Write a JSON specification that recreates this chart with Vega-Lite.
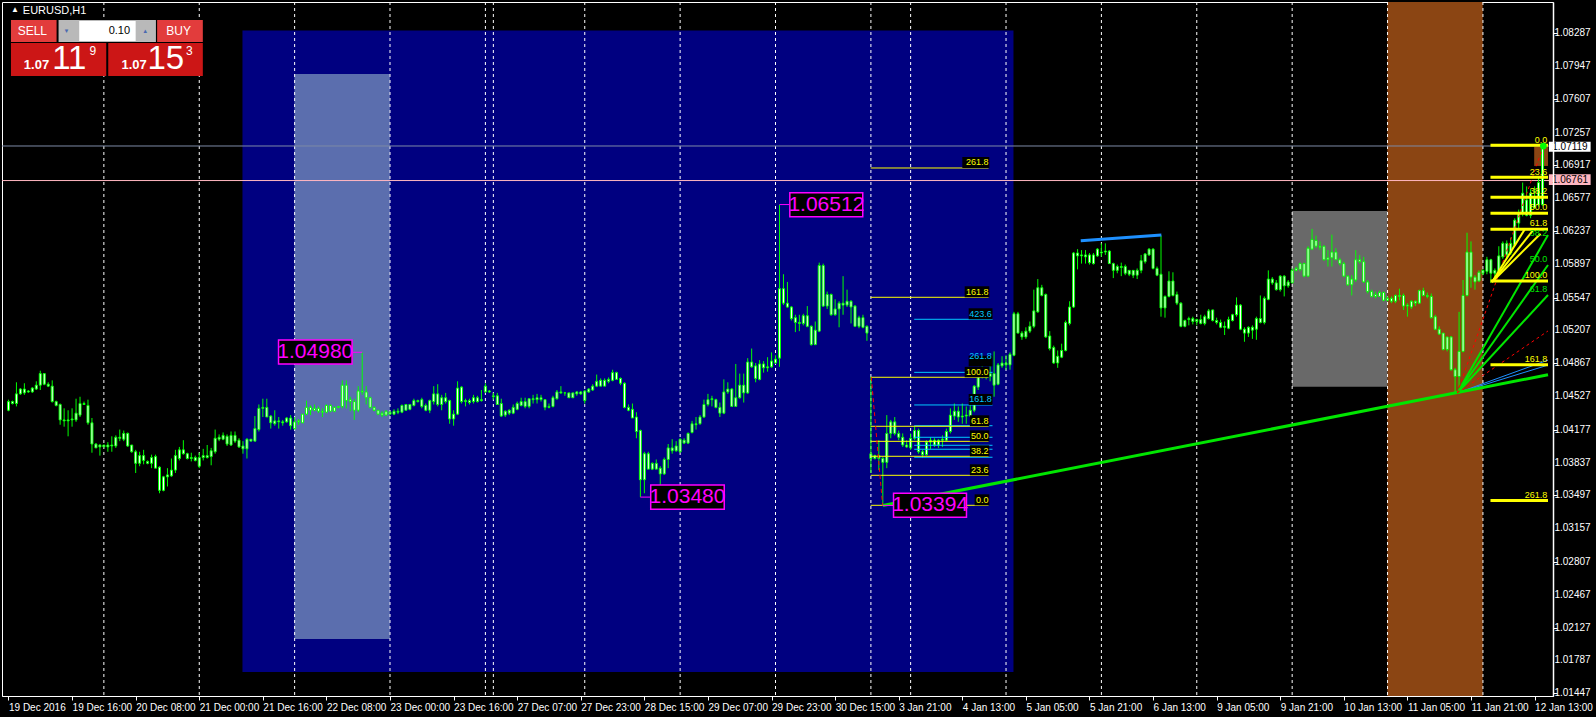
{
"$schema":"https://vega.github.io/schema/vega-lite/v6.json",
"width":1551,"height":694,
"autosize":{"type":"none"},
"padding":{"left":2,"top":2,"right":43,"bottom":21},
"background":"#000000",
"config":{"view":{"stroke":"#ffffff","strokeWidth":1,"fill":"#000000"},"text":{"font":"Liberation Sans"},
 "axis":{"grid":false,"labelColor":"#ffffff","tickColor":"#ffffff","domainColor":"#ffffff","labelFont":"Liberation Sans","labelFontSize":10,"titleFontSize":0,"labelOverlap":false,"labelSeparation":0,"labelBound":false}},
"datasets":{
"candles":[
{"i":0,"o":1.0438,"h":1.0449,"l":1.0437,"c":1.0447},{"i":1,"o":1.0447,"h":1.0448,"l":1.0444,"c":1.0445},{"i":2,"o":1.0445,"h":1.0467,"l":1.0442,"c":1.0455},{"i":3,"o":1.0455,"h":1.0461,"l":1.0454,"c":1.0460},{"i":4,"o":1.0460,"h":1.0466,"l":1.0454,"c":1.0456},{"i":5,"o":1.0457,"h":1.0459,"l":1.0456,"c":1.0458},{"i":6,"o":1.0457,"h":1.0462,"l":1.0456,"c":1.0461},{"i":7,"o":1.0460,"h":1.0468,"l":1.0459,"c":1.0464},{"i":8,"o":1.0464,"h":1.0479,"l":1.0459,"c":1.0476},{"i":9,"o":1.0476,"h":1.0476,"l":1.0464,"c":1.0465},
{"i":10,"o":1.0465,"h":1.0467,"l":1.0462,"c":1.0463},{"i":11,"o":1.0463,"h":1.0469,"l":1.0446,"c":1.0447},{"i":12,"o":1.0447,"h":1.0448,"l":1.0442,"c":1.0443},{"i":13,"o":1.0444,"h":1.0445,"l":1.0423,"c":1.0428},{"i":14,"o":1.0428,"h":1.0440,"l":1.0421,"c":1.0427},{"i":15,"o":1.0427,"h":1.0438,"l":1.0411,"c":1.0428},{"i":16,"o":1.0428,"h":1.0440,"l":1.0421,"c":1.0429},{"i":17,"o":1.0428,"h":1.0450,"l":1.0426,"c":1.0435},{"i":18,"o":1.0433,"h":1.0452,"l":1.0431,"c":1.0445},{"i":19,"o":1.0445,"h":1.0447,"l":1.0444,"c":1.0444},
{"i":20,"o":1.0443,"h":1.0449,"l":1.0423,"c":1.0425},{"i":21,"o":1.0425,"h":1.0430,"l":1.0394,"c":1.0403},{"i":22,"o":1.0403,"h":1.0404,"l":1.0399,"c":1.0399},{"i":23,"o":1.0400,"h":1.0403,"l":1.0391,"c":1.0402},{"i":24,"o":1.0402,"h":1.0402,"l":1.0400,"c":1.0400},{"i":25,"o":1.0400,"h":1.0405,"l":1.0395,"c":1.0402},{"i":26,"o":1.0402,"h":1.0411,"l":1.0395,"c":1.0401},{"i":27,"o":1.0401,"h":1.0412,"l":1.0399,"c":1.0410},{"i":28,"o":1.0410,"h":1.0418,"l":1.0406,"c":1.0409},{"i":29,"o":1.0408,"h":1.0417,"l":1.0406,"c":1.0414},
{"i":30,"o":1.0414,"h":1.0415,"l":1.0400,"c":1.0401},{"i":31,"o":1.0402,"h":1.0402,"l":1.0394,"c":1.0395},{"i":32,"o":1.0395,"h":1.0397,"l":1.0373,"c":1.0383},{"i":33,"o":1.0383,"h":1.0395,"l":1.0380,"c":1.0391},{"i":34,"o":1.0391,"h":1.0397,"l":1.0382,"c":1.0386},{"i":35,"o":1.0385,"h":1.0386,"l":1.0382,"c":1.0383},{"i":36,"o":1.0383,"h":1.0392,"l":1.0378,"c":1.0389},{"i":37,"o":1.0390,"h":1.0392,"l":1.0378,"c":1.0378},{"i":38,"o":1.0379,"h":1.0380,"l":1.0352,"c":1.0355},{"i":39,"o":1.0355,"h":1.0370,"l":1.0354,"c":1.0369},
{"i":40,"o":1.0369,"h":1.0378,"l":1.0359,"c":1.0371},{"i":41,"o":1.0370,"h":1.0388,"l":1.0369,"c":1.0376},{"i":42,"o":1.0376,"h":1.0397,"l":1.0373,"c":1.0391},{"i":43,"o":1.0388,"h":1.0400,"l":1.0386,"c":1.0397},{"i":44,"o":1.0397,"h":1.0407,"l":1.0392,"c":1.0393},{"i":45,"o":1.0393,"h":1.0394,"l":1.0387,"c":1.0388},{"i":46,"o":1.0388,"h":1.0394,"l":1.0385,"c":1.0389},{"i":47,"o":1.0389,"h":1.0391,"l":1.0385,"c":1.0386},{"i":48,"o":1.0389,"h":1.0394,"l":1.0378,"c":1.0380},{"i":49,"o":1.0389,"h":1.0398,"l":1.0386,"c":1.0391},
{"i":50,"o":1.0389,"h":1.0402,"l":1.0388,"c":1.0391},{"i":51,"o":1.0390,"h":1.0399,"l":1.0381,"c":1.0396},{"i":52,"o":1.0395,"h":1.0418,"l":1.0393,"c":1.0409},{"i":53,"o":1.0408,"h":1.0413,"l":1.0406,"c":1.0410},{"i":54,"o":1.0408,"h":1.0415,"l":1.0407,"c":1.0412},{"i":55,"o":1.0411,"h":1.0413,"l":1.0401,"c":1.0403},{"i":56,"o":1.0402,"h":1.0416,"l":1.0401,"c":1.0412},{"i":57,"o":1.0412,"h":1.0416,"l":1.0404,"c":1.0406},{"i":58,"o":1.0407,"h":1.0409,"l":1.0399,"c":1.0400},{"i":59,"o":1.0401,"h":1.0406,"l":1.0393,"c":1.0398},
{"i":60,"o":1.0398,"h":1.0409,"l":1.0388,"c":1.0408},{"i":61,"o":1.0408,"h":1.0408,"l":1.0406,"c":1.0406},{"i":62,"o":1.0406,"h":1.0432,"l":1.0406,"c":1.0419},{"i":63,"o":1.0418,"h":1.0444,"l":1.0416,"c":1.0440},{"i":64,"o":1.0440,"h":1.0450,"l":1.0431,"c":1.0441},{"i":65,"o":1.0441,"h":1.0450,"l":1.0431,"c":1.0431},{"i":66,"o":1.0432,"h":1.0433,"l":1.0419,"c":1.0425},{"i":67,"o":1.0424,"h":1.0438,"l":1.0422,"c":1.0427},{"i":68,"o":1.0427,"h":1.0431,"l":1.0419,"c":1.0426},{"i":69,"o":1.0426,"h":1.0428,"l":1.0422,"c":1.0425},
{"i":70,"o":1.0426,"h":1.0431,"l":1.0425,"c":1.0430},{"i":71,"o":1.0430,"h":1.0433,"l":1.0418,"c":1.0422},{"i":72,"o":1.0426,"h":1.0431,"l":1.0418,"c":1.0419},{"i":73,"o":1.0426,"h":1.0429,"l":1.0423,"c":1.0427},{"i":74,"o":1.0425,"h":1.0434,"l":1.0425,"c":1.0434},{"i":75,"o":1.0434,"h":1.0448,"l":1.0433,"c":1.0441},{"i":76,"o":1.0441,"h":1.0443,"l":1.0433,"c":1.0438},{"i":77,"o":1.0438,"h":1.0444,"l":1.0437,"c":1.0440},{"i":78,"o":1.0440,"h":1.0442,"l":1.0435,"c":1.0437},{"i":79,"o":1.0437,"h":1.0440,"l":1.0431,"c":1.0436},
{"i":80,"o":1.0436,"h":1.0444,"l":1.0435,"c":1.0443},{"i":81,"o":1.0443,"h":1.0444,"l":1.0436,"c":1.0437},{"i":82,"o":1.0437,"h":1.0442,"l":1.0436,"c":1.0441},{"i":83,"o":1.0441,"h":1.0442,"l":1.0440,"c":1.0442},{"i":84,"o":1.0442,"h":1.0469,"l":1.0440,"c":1.0464},{"i":85,"o":1.0464,"h":1.0469,"l":1.0440,"c":1.0448},{"i":86,"o":1.0449,"h":1.0452,"l":1.0437,"c":1.0447},{"i":87,"o":1.0447,"h":1.0450,"l":1.0428,"c":1.0438},{"i":88,"o":1.0438,"h":1.0463,"l":1.0436,"c":1.0458},{"i":89,"o":1.0458,"h":1.0498,"l":1.0454,"c":1.0457},
{"i":90,"o":1.0457,"h":1.0463,"l":1.0444,"c":1.0451},{"i":91,"o":1.0451,"h":1.0452,"l":1.0440,"c":1.0441},{"i":92,"o":1.0441,"h":1.0442,"l":1.0437,"c":1.0438},{"i":93,"o":1.0438,"h":1.0438,"l":1.0433,"c":1.0434},{"i":94,"o":1.0435,"h":1.0437,"l":1.0431,"c":1.0433},{"i":95,"o":1.0433,"h":1.0438,"l":1.0432,"c":1.0437},{"i":96,"o":1.0436,"h":1.0437,"l":1.0433,"c":1.0434},{"i":97,"o":1.0434,"h":1.0439,"l":1.0433,"c":1.0437},{"i":98,"o":1.0436,"h":1.0440,"l":1.0434,"c":1.0437},{"i":99,"o":1.0436,"h":1.0444,"l":1.0435,"c":1.0443},
{"i":100,"o":1.0438,"h":1.0444,"l":1.0438,"c":1.0444},{"i":101,"o":1.0444,"h":1.0444,"l":1.0438,"c":1.0439},{"i":102,"o":1.0443,"h":1.0450,"l":1.0442,"c":1.0448},{"i":103,"o":1.0448,"h":1.0449,"l":1.0446,"c":1.0447},{"i":104,"o":1.0449,"h":1.0451,"l":1.0440,"c":1.0442},{"i":105,"o":1.0443,"h":1.0445,"l":1.0437,"c":1.0438},{"i":106,"o":1.0438,"h":1.0449,"l":1.0435,"c":1.0448},{"i":107,"o":1.0447,"h":1.0463,"l":1.0444,"c":1.0455},{"i":108,"o":1.0455,"h":1.0465,"l":1.0442,"c":1.0444},{"i":109,"o":1.0444,"h":1.0454,"l":1.0438,"c":1.0451},
{"i":110,"o":1.0451,"h":1.0456,"l":1.0445,"c":1.0447},{"i":111,"o":1.0448,"h":1.0449,"l":1.0424,"c":1.0429},{"i":112,"o":1.0429,"h":1.0438,"l":1.0422,"c":1.0434},{"i":113,"o":1.0434,"h":1.0468,"l":1.0433,"c":1.0461},{"i":114,"o":1.0462,"h":1.0463,"l":1.0445,"c":1.0447},{"i":115,"o":1.0447,"h":1.0450,"l":1.0442,"c":1.0448},{"i":116,"o":1.0448,"h":1.0450,"l":1.0444,"c":1.0446},{"i":117,"o":1.0447,"h":1.0454,"l":1.0445,"c":1.0451},{"i":118,"o":1.0447,"h":1.0453,"l":1.0446,"c":1.0451},{"i":119,"o":1.0448,"h":1.0459,"l":1.0447,"c":1.0449},
{"i":120,"o":1.0457,"h":1.0466,"l":1.0456,"c":1.0463},{"i":121,"o":1.0458,"h":1.0459,"l":1.0456,"c":1.0457},{"i":122,"o":1.0453,"h":1.0456,"l":1.0449,"c":1.0452},{"i":123,"o":1.0453,"h":1.0456,"l":1.0444,"c":1.0444},{"i":124,"o":1.0445,"h":1.0450,"l":1.0431,"c":1.0432},{"i":125,"o":1.0433,"h":1.0438,"l":1.0431,"c":1.0437},{"i":126,"o":1.0435,"h":1.0439,"l":1.0433,"c":1.0438},{"i":127,"o":1.0435,"h":1.0444,"l":1.0434,"c":1.0441},{"i":128,"o":1.0439,"h":1.0447,"l":1.0438,"c":1.0445},{"i":129,"o":1.0443,"h":1.0451,"l":1.0442,"c":1.0447},
{"i":130,"o":1.0447,"h":1.0451,"l":1.0440,"c":1.0442},{"i":131,"o":1.0442,"h":1.0450,"l":1.0440,"c":1.0450},{"i":132,"o":1.0449,"h":1.0454,"l":1.0445,"c":1.0450},{"i":133,"o":1.0449,"h":1.0455,"l":1.0445,"c":1.0451},{"i":134,"o":1.0451,"h":1.0454,"l":1.0447,"c":1.0449},{"i":135,"o":1.0449,"h":1.0449,"l":1.0438,"c":1.0441},{"i":136,"o":1.0441,"h":1.0445,"l":1.0440,"c":1.0442},{"i":137,"o":1.0442,"h":1.0453,"l":1.0441,"c":1.0451},{"i":138,"o":1.0450,"h":1.0459,"l":1.0449,"c":1.0457},{"i":139,"o":1.0456,"h":1.0463,"l":1.0455,"c":1.0457},
{"i":140,"o":1.0456,"h":1.0457,"l":1.0453,"c":1.0456},{"i":141,"o":1.0456,"h":1.0456,"l":1.0451,"c":1.0451},{"i":142,"o":1.0451,"h":1.0456,"l":1.0451,"c":1.0456},{"i":143,"o":1.0455,"h":1.0458,"l":1.0453,"c":1.0457},{"i":144,"o":1.0455,"h":1.0458,"l":1.0454,"c":1.0457},{"i":145,"o":1.0448,"h":1.0459,"l":1.0445,"c":1.0458},{"i":146,"o":1.0457,"h":1.0461,"l":1.0456,"c":1.0460},{"i":147,"o":1.0459,"h":1.0465,"l":1.0458,"c":1.0463},{"i":148,"o":1.0463,"h":1.0475,"l":1.0462,"c":1.0468},{"i":149,"o":1.0463,"h":1.0471,"l":1.0463,"c":1.0469},
{"i":150,"o":1.0463,"h":1.0471,"l":1.0463,"c":1.0469},{"i":151,"o":1.0468,"h":1.0472,"l":1.0466,"c":1.0470},{"i":152,"o":1.0469,"h":1.0480,"l":1.0468,"c":1.0477},{"i":153,"o":1.0477,"h":1.0478,"l":1.0470,"c":1.0470},{"i":154,"o":1.0471,"h":1.0472,"l":1.0464,"c":1.0466},{"i":155,"o":1.0466,"h":1.0467,"l":1.0440,"c":1.0441},{"i":156,"o":1.0441,"h":1.0444,"l":1.0437,"c":1.0438},{"i":157,"o":1.0439,"h":1.0445,"l":1.0430,"c":1.0430},{"i":158,"o":1.0431,"h":1.0436,"l":1.0409,"c":1.0416},{"i":159,"o":1.0417,"h":1.0418,"l":1.0348,"c":1.0366},
{"i":160,"o":1.0366,"h":1.0395,"l":1.0352,"c":1.0393},{"i":161,"o":1.0393,"h":1.0395,"l":1.0377,"c":1.0377},{"i":162,"o":1.0377,"h":1.0384,"l":1.0376,"c":1.0383},{"i":163,"o":1.0383,"h":1.0387,"l":1.0377,"c":1.0377},{"i":164,"o":1.0378,"h":1.0380,"l":1.0355,"c":1.0372},{"i":165,"o":1.0372,"h":1.0389,"l":1.0371,"c":1.0387},{"i":166,"o":1.0387,"h":1.0403,"l":1.0378,"c":1.0399},{"i":167,"o":1.0396,"h":1.0408,"l":1.0393,"c":1.0399},{"i":168,"o":1.0396,"h":1.0406,"l":1.0395,"c":1.0401},{"i":169,"o":1.0395,"h":1.0409,"l":1.0394,"c":1.0408},
{"i":170,"o":1.0407,"h":1.0409,"l":1.0403,"c":1.0404},{"i":171,"o":1.0404,"h":1.0415,"l":1.0403,"c":1.0414},{"i":172,"o":1.0415,"h":1.0427,"l":1.0414,"c":1.0424},{"i":173,"o":1.0423,"h":1.0431,"l":1.0418,"c":1.0424},{"i":174,"o":1.0424,"h":1.0433,"l":1.0423,"c":1.0431},{"i":175,"o":1.0431,"h":1.0449,"l":1.0430,"c":1.0444},{"i":176,"o":1.0444,"h":1.0455,"l":1.0442,"c":1.0449},{"i":177,"o":1.0449,"h":1.0453,"l":1.0442,"c":1.0450},{"i":178,"o":1.0449,"h":1.0450,"l":1.0440,"c":1.0441},{"i":179,"o":1.0441,"h":1.0446,"l":1.0431,"c":1.0435},
{"i":180,"o":1.0435,"h":1.0470,"l":1.0434,"c":1.0457},{"i":181,"o":1.0457,"h":1.0467,"l":1.0455,"c":1.0460},{"i":182,"o":1.0460,"h":1.0461,"l":1.0442,"c":1.0442},{"i":183,"o":1.0442,"h":1.0486,"l":1.0442,"c":1.0451},{"i":184,"o":1.0451,"h":1.0476,"l":1.0450,"c":1.0464},{"i":185,"o":1.0464,"h":1.0476,"l":1.0446,"c":1.0456},{"i":186,"o":1.0456,"h":1.0492,"l":1.0455,"c":1.0488},{"i":187,"o":1.0488,"h":1.0502,"l":1.0482,"c":1.0483},{"i":188,"o":1.0484,"h":1.0487,"l":1.0467,"c":1.0471},{"i":189,"o":1.0470,"h":1.0490,"l":1.0469,"c":1.0486},
{"i":190,"o":1.0486,"h":1.0489,"l":1.0477,"c":1.0482},{"i":191,"o":1.0482,"h":1.0493,"l":1.0478,"c":1.0483},{"i":192,"o":1.0483,"h":1.0498,"l":1.0482,"c":1.0489},{"i":193,"o":1.0487,"h":1.0495,"l":1.0486,"c":1.0491},{"i":194,"o":1.0492,"h":1.06512,"l":1.0483,"c":1.0564},{"i":195,"o":1.0564,"h":1.0579,"l":1.0547,"c":1.0549},{"i":196,"o":1.0549,"h":1.0571,"l":1.0544,"c":1.0545},{"i":197,"o":1.0545,"h":1.0546,"l":1.0531,"c":1.0533},{"i":198,"o":1.0534,"h":1.0537,"l":1.0519,"c":1.0529},{"i":199,"o":1.0529,"h":1.0537,"l":1.0520,"c":1.0528},
{"i":200,"o":1.0528,"h":1.0538,"l":1.0526,"c":1.0536},{"i":201,"o":1.0536,"h":1.0546,"l":1.0524,"c":1.0525},{"i":202,"o":1.0525,"h":1.0526,"l":1.0505,"c":1.0506},{"i":203,"o":1.0506,"h":1.0530,"l":1.0506,"c":1.0521},{"i":204,"o":1.0520,"h":1.0591,"l":1.0519,"c":1.0588},{"i":205,"o":1.0588,"h":1.0590,"l":1.0545,"c":1.0546},{"i":206,"o":1.0546,"h":1.0561,"l":1.0543,"c":1.0558},{"i":207,"o":1.0558,"h":1.0559,"l":1.0536,"c":1.0537},{"i":208,"o":1.0537,"h":1.0553,"l":1.0536,"c":1.0543},{"i":209,"o":1.0543,"h":1.0551,"l":1.0524,"c":1.0549},
{"i":210,"o":1.0549,"h":1.0577,"l":1.0537,"c":1.0547},{"i":211,"o":1.0547,"h":1.0563,"l":1.0545,"c":1.0551},{"i":212,"o":1.0551,"h":1.0552,"l":1.0528,"c":1.0545},{"i":213,"o":1.0546,"h":1.0547,"l":1.0525,"c":1.0525},{"i":214,"o":1.0525,"h":1.0536,"l":1.0523,"c":1.0534},{"i":215,"o":1.0534,"h":1.0537,"l":1.0523,"c":1.0524},{"i":216,"o":1.0525,"h":1.0526,"l":1.0510,"c":1.0518},{"i":217,"o":1.0388,"h":1.0473,"l":1.0373,"c":1.0393},{"i":218,"o":1.0391,"h":1.0392,"l":1.0387,"c":1.0388},{"i":219,"o":1.0388,"h":1.0407,"l":1.0376,"c":1.0391},
{"i":220,"o":1.0388,"h":1.0390,"l":1.03394,"c":1.0384},{"i":221,"o":1.0384,"h":1.0433,"l":1.0378,"c":1.0414},{"i":222,"o":1.0414,"h":1.0428,"l":1.0409,"c":1.0426},{"i":223,"o":1.0426,"h":1.0431,"l":1.0412,"c":1.0414},{"i":224,"o":1.0414,"h":1.0417,"l":1.0407,"c":1.0410},{"i":225,"o":1.0410,"h":1.0414,"l":1.0400,"c":1.0402},{"i":226,"o":1.0402,"h":1.0407,"l":1.0399,"c":1.0400},{"i":227,"o":1.0399,"h":1.0414,"l":1.0397,"c":1.0409},{"i":228,"o":1.0409,"h":1.0421,"l":1.0407,"c":1.0417},{"i":229,"o":1.0417,"h":1.0419,"l":1.0393,"c":1.0395},
{"i":230,"o":1.0395,"h":1.0397,"l":1.0389,"c":1.0392},{"i":231,"o":1.0392,"h":1.0407,"l":1.0391,"c":1.0405},{"i":232,"o":1.0405,"h":1.0410,"l":1.0398,"c":1.0407},{"i":233,"o":1.0407,"h":1.0409,"l":1.0400,"c":1.0402},{"i":234,"o":1.0402,"h":1.0408,"l":1.0399,"c":1.0407},{"i":235,"o":1.0407,"h":1.0412,"l":1.0400,"c":1.0408},{"i":236,"o":1.0407,"h":1.0419,"l":1.0406,"c":1.0416},{"i":237,"o":1.0416,"h":1.0440,"l":1.0414,"c":1.0433},{"i":238,"o":1.0432,"h":1.0445,"l":1.0428,"c":1.0437},{"i":239,"o":1.0437,"h":1.0442,"l":1.0426,"c":1.0431},
{"i":240,"o":1.0431,"h":1.0445,"l":1.0424,"c":1.0432},{"i":241,"o":1.0432,"h":1.0442,"l":1.0424,"c":1.0433},{"i":242,"o":1.0432,"h":1.0445,"l":1.0431,"c":1.0438},{"i":243,"o":1.0438,"h":1.0464,"l":1.0436,"c":1.0463},{"i":244,"o":1.0462,"h":1.0483,"l":1.0459,"c":1.0476},{"i":245,"o":1.0473,"h":1.0488,"l":1.0471,"c":1.0481},{"i":246,"o":1.0478,"h":1.0483,"l":1.0470,"c":1.0473},{"i":247,"o":1.0473,"h":1.0488,"l":1.0468,"c":1.0476},{"i":248,"o":1.0476,"h":1.0499,"l":1.0452,"c":1.0464},{"i":249,"o":1.0465,"h":1.0487,"l":1.0464,"c":1.0485},
{"i":250,"o":1.0484,"h":1.0494,"l":1.0482,"c":1.0487},{"i":251,"o":1.0487,"h":1.0495,"l":1.0480,"c":1.0485},{"i":252,"o":1.0485,"h":1.0498,"l":1.0480,"c":1.0496},{"i":253,"o":1.0495,"h":1.0540,"l":1.0494,"c":1.0538},{"i":254,"o":1.0538,"h":1.0540,"l":1.0518,"c":1.0518},{"i":255,"o":1.0518,"h":1.0520,"l":1.0511,"c":1.0514},{"i":256,"o":1.0514,"h":1.0524,"l":1.0512,"c":1.0520},{"i":257,"o":1.0520,"h":1.0530,"l":1.0518,"c":1.0525},{"i":258,"o":1.0525,"h":1.0563,"l":1.0523,"c":1.0541},{"i":259,"o":1.0540,"h":1.0574,"l":1.0539,"c":1.0565},
{"i":260,"o":1.0565,"h":1.0568,"l":1.0556,"c":1.0557},{"i":261,"o":1.0558,"h":1.0559,"l":1.0513,"c":1.0514},{"i":262,"o":1.0515,"h":1.0520,"l":1.0500,"c":1.0502},{"i":263,"o":1.0503,"h":1.0505,"l":1.0486,"c":1.0487},{"i":264,"o":1.0487,"h":1.0500,"l":1.0482,"c":1.0494},{"i":265,"o":1.0493,"h":1.0507,"l":1.0492,"c":1.0500},{"i":266,"o":1.0500,"h":1.0531,"l":1.0499,"c":1.0529},{"i":267,"o":1.0528,"h":1.0551,"l":1.0526,"c":1.0545},{"i":268,"o":1.0545,"h":1.0602,"l":1.0544,"c":1.0601},{"i":269,"o":1.0601,"h":1.0605,"l":1.0584,"c":1.0598},
{"i":270,"o":1.0598,"h":1.0604,"l":1.0590,"c":1.0599},{"i":271,"o":1.0599,"h":1.0604,"l":1.0590,"c":1.0597},{"i":272,"o":1.0599,"h":1.0601,"l":1.0589,"c":1.0591},{"i":273,"o":1.0590,"h":1.0601,"l":1.0589,"c":1.0599},{"i":274,"o":1.0598,"h":1.0606,"l":1.0597,"c":1.0605},{"i":275,"o":1.0601,"h":1.0611,"l":1.0597,"c":1.0602},{"i":276,"o":1.0602,"h":1.0611,"l":1.0599,"c":1.0603},{"i":277,"o":1.0603,"h":1.0604,"l":1.0590,"c":1.0590},{"i":278,"o":1.0590,"h":1.0591,"l":1.0575,"c":1.0583},{"i":279,"o":1.0583,"h":1.0589,"l":1.0580,"c":1.0587},
{"i":280,"o":1.0587,"h":1.0591,"l":1.0577,"c":1.0586},{"i":281,"o":1.0587,"h":1.0589,"l":1.0578,"c":1.0580},{"i":282,"o":1.0579,"h":1.0583,"l":1.0577,"c":1.0583},{"i":283,"o":1.0583,"h":1.0583,"l":1.0575,"c":1.0578},{"i":284,"o":1.0578,"h":1.0585,"l":1.0574,"c":1.0583},{"i":285,"o":1.0583,"h":1.0599,"l":1.0580,"c":1.0593},{"i":286,"o":1.0592,"h":1.0601,"l":1.0590,"c":1.0600},{"i":287,"o":1.0599,"h":1.0606,"l":1.0598,"c":1.0605},{"i":288,"o":1.0605,"h":1.0606,"l":1.0584,"c":1.0585},{"i":289,"o":1.0585,"h":1.0587,"l":1.0577,"c":1.0578},
{"i":290,"o":1.0579,"h":1.0619,"l":1.0535,"c":1.0544},{"i":291,"o":1.0544,"h":1.0557,"l":1.0534,"c":1.0556},{"i":292,"o":1.0556,"h":1.0582,"l":1.0555,"c":1.0572},{"i":293,"o":1.0572,"h":1.0581,"l":1.0556,"c":1.0557},{"i":294,"o":1.0558,"h":1.0561,"l":1.0547,"c":1.0549},{"i":295,"o":1.0549,"h":1.0550,"l":1.0524,"c":1.0525},{"i":296,"o":1.0525,"h":1.0532,"l":1.0524,"c":1.0531},{"i":297,"o":1.0532,"h":1.0535,"l":1.0526,"c":1.0533},{"i":298,"o":1.0533,"h":1.0535,"l":1.0527,"c":1.0530},{"i":299,"o":1.0530,"h":1.0533,"l":1.0526,"c":1.0532},
{"i":300,"o":1.0532,"h":1.0537,"l":1.0527,"c":1.0528},{"i":301,"o":1.0528,"h":1.0537,"l":1.0526,"c":1.0535},{"i":302,"o":1.0533,"h":1.0543,"l":1.0532,"c":1.0541},{"i":303,"o":1.0542,"h":1.0542,"l":1.0530,"c":1.0531},{"i":304,"o":1.0531,"h":1.0534,"l":1.0527,"c":1.0529},{"i":305,"o":1.0529,"h":1.0532,"l":1.0523,"c":1.0524},{"i":306,"o":1.0524,"h":1.0530,"l":1.0516,"c":1.0525},{"i":307,"o":1.0523,"h":1.0535,"l":1.0522,"c":1.0532},{"i":308,"o":1.0531,"h":1.0538,"l":1.0530,"c":1.0537},{"i":309,"o":1.0537,"h":1.0555,"l":1.0535,"c":1.0547},
{"i":310,"o":1.0547,"h":1.0548,"l":1.0521,"c":1.0522},{"i":311,"o":1.0522,"h":1.0524,"l":1.0509,"c":1.0518},{"i":312,"o":1.0518,"h":1.0525,"l":1.0514,"c":1.0524},{"i":313,"o":1.0524,"h":1.0526,"l":1.0512,"c":1.0521},{"i":314,"o":1.0522,"h":1.0535,"l":1.0511,"c":1.0533},{"i":315,"o":1.0533,"h":1.0557,"l":1.0528,"c":1.0529},{"i":316,"o":1.0529,"h":1.0556,"l":1.0527,"c":1.0554},{"i":317,"o":1.0553,"h":1.0583,"l":1.0552,"c":1.0574},{"i":318,"o":1.0574,"h":1.0576,"l":1.0568,"c":1.0570},{"i":319,"o":1.0570,"h":1.0573,"l":1.0562,"c":1.0563},
{"i":320,"o":1.0563,"h":1.0578,"l":1.0561,"c":1.0577},{"i":321,"o":1.0577,"h":1.0578,"l":1.0556,"c":1.0567},{"i":322,"o":1.0567,"h":1.0573,"l":1.0565,"c":1.0571},{"i":323,"o":1.0570,"h":1.0585,"l":1.0570,"c":1.0583},{"i":324,"o":1.0583,"h":1.0587,"l":1.0582,"c":1.0585},{"i":325,"o":1.0584,"h":1.0591,"l":1.0582,"c":1.0590},{"i":326,"o":1.0590,"h":1.0591,"l":1.0576,"c":1.0577},{"i":327,"o":1.0577,"h":1.0608,"l":1.0576,"c":1.0606},{"i":328,"o":1.0605,"h":1.0626,"l":1.0604,"c":1.0615},{"i":329,"o":1.0614,"h":1.0619,"l":1.0606,"c":1.0608},
{"i":330,"o":1.0608,"h":1.0613,"l":1.0604,"c":1.0607},{"i":331,"o":1.0608,"h":1.0609,"l":1.0593,"c":1.0594},{"i":332,"o":1.0594,"h":1.0604,"l":1.0587,"c":1.0596},{"i":333,"o":1.0596,"h":1.0620,"l":1.0587,"c":1.0602},{"i":334,"o":1.0602,"h":1.0606,"l":1.0594,"c":1.0594},{"i":335,"o":1.0594,"h":1.0596,"l":1.0588,"c":1.0590},{"i":336,"o":1.0590,"h":1.0592,"l":1.0576,"c":1.0577},{"i":337,"o":1.0577,"h":1.0578,"l":1.0567,"c":1.0568},{"i":338,"o":1.0568,"h":1.0578,"l":1.0557,"c":1.0574},{"i":339,"o":1.0573,"h":1.0604,"l":1.0571,"c":1.0594},
{"i":340,"o":1.0594,"h":1.0599,"l":1.0590,"c":1.0592},{"i":341,"o":1.0592,"h":1.0597,"l":1.0570,"c":1.0571},{"i":342,"o":1.0571,"h":1.0573,"l":1.0559,"c":1.0561},{"i":343,"o":1.0561,"h":1.0563,"l":1.0555,"c":1.0556},{"i":344,"o":1.0556,"h":1.0561,"l":1.0554,"c":1.0558},{"i":345,"o":1.0556,"h":1.0562,"l":1.0556,"c":1.0560},{"i":346,"o":1.0560,"h":1.0561,"l":1.0551,"c":1.0552},{"i":347,"o":1.0552,"h":1.0556,"l":1.0551,"c":1.0554},{"i":348,"o":1.0554,"h":1.0556,"l":1.0549,"c":1.0551},{"i":349,"o":1.0551,"h":1.0558,"l":1.0549,"c":1.0557},
{"i":350,"o":1.0557,"h":1.0564,"l":1.0552,"c":1.0556},{"i":351,"o":1.0557,"h":1.0559,"l":1.0542,"c":1.0546},{"i":352,"o":1.0546,"h":1.0549,"l":1.0535,"c":1.0547},{"i":353,"o":1.0545,"h":1.0552,"l":1.0543,"c":1.0551},{"i":354,"o":1.0551,"h":1.0552,"l":1.0546,"c":1.0549},{"i":355,"o":1.0549,"h":1.0563,"l":1.0548,"c":1.0562},{"i":356,"o":1.0562,"h":1.0565,"l":1.0556,"c":1.0557},{"i":357,"o":1.0557,"h":1.0560,"l":1.0554,"c":1.0556},{"i":358,"o":1.0556,"h":1.0559,"l":1.0533,"c":1.0534},{"i":359,"o":1.0535,"h":1.0537,"l":1.0521,"c":1.0522},
{"i":360,"o":1.0522,"h":1.0525,"l":1.0516,"c":1.0517},{"i":361,"o":1.0518,"h":1.0518,"l":1.0500,"c":1.0501},{"i":362,"o":1.0501,"h":1.0514,"l":1.0499,"c":1.0514},{"i":363,"o":1.0514,"h":1.0515,"l":1.0479,"c":1.0480},{"i":364,"o":1.0480,"h":1.0482,"l":1.0456,"c":1.0473},{"i":365,"o":1.0473,"h":1.0540,"l":1.0462,"c":1.0499},{"i":366,"o":1.0499,"h":1.0573,"l":1.0498,"c":1.0557},{"i":367,"o":1.0557,"h":1.0622,"l":1.0556,"c":1.0602},{"i":368,"o":1.0602,"h":1.0613,"l":1.0565,"c":1.0576},{"i":369,"o":1.0576,"h":1.0578,"l":1.0563,"c":1.0571},
{"i":370,"o":1.0572,"h":1.0583,"l":1.0571,"c":1.0581},{"i":371,"o":1.0580,"h":1.0584,"l":1.0578,"c":1.0583},{"i":372,"o":1.0582,"h":1.0597,"l":1.0579,"c":1.0594},{"i":373,"o":1.0594,"h":1.0595,"l":1.0570,"c":1.0580},{"i":374,"o":1.0580,"h":1.0585,"l":1.0575,"c":1.0583},{"i":375,"o":1.0582,"h":1.0608,"l":1.0581,"c":1.0598},{"i":376,"o":1.0597,"h":1.0613,"l":1.0595,"c":1.0611},{"i":377,"o":1.0611,"h":1.0614,"l":1.0595,"c":1.0599},{"i":378,"o":1.0601,"h":1.0617,"l":1.0599,"c":1.0611},{"i":379,"o":1.0609,"h":1.0637,"l":1.0608,"c":1.0635},
{"i":380,"o":1.0632,"h":1.0646,"l":1.0625,"c":1.0643},{"i":381,"o":1.0642,"h":1.0674,"l":1.0639,"c":1.0663},{"i":382,"o":1.0656,"h":1.0670,"l":1.0639,"c":1.0640},{"i":383,"o":1.0640,"h":1.0667,"l":1.0637,"c":1.0663},{"i":384,"o":1.0659,"h":1.0670,"l":1.0647,"c":1.0648},{"i":385,"o":1.0651,"h":1.0680,"l":1.0649,"c":1.0674},{"i":386,"o":1.0651,"h":1.0714,"l":1.0650,"c":1.07119}
],
"seps":[{"i":24},{"i":48},{"i":72},{"i":96},{"i":120},{"i":122},{"i":145},{"i":169},{"i":193},{"i":217},{"i":227},{"i":251},{"i":275},{"i":299},{"i":323},{"i":347},{"i":371}],
"ylabels":[{"i":389.0,"p":1.08287,"t":"1.08287"},{"i":389.0,"p":1.07947,"t":"1.07947"},{"i":389.0,"p":1.07607,"t":"1.07607"},{"i":389.0,"p":1.07257,"t":"1.07257"},{"i":389.0,"p":1.06917,"t":"1.06917"},{"i":389.0,"p":1.06577,"t":"1.06577"},{"i":389.0,"p":1.06237,"t":"1.06237"},{"i":389.0,"p":1.05897,"t":"1.05897"},{"i":389.0,"p":1.05547,"t":"1.05547"},{"i":389.0,"p":1.05207,"t":"1.05207"},{"i":389.0,"p":1.04867,"t":"1.04867"},{"i":389.0,"p":1.04527,"t":"1.04527"},{"i":389.0,"p":1.04177,"t":"1.04177"},{"i":389.0,"p":1.03837,"t":"1.03837"},{"i":389.0,"p":1.03497,"t":"1.03497"},{"i":389.0,"p":1.03157,"t":"1.03157"},{"i":389.0,"p":1.02807,"t":"1.02807"},{"i":389.0,"p":1.02467,"t":"1.02467"},{"i":389.0,"p":1.02127,"t":"1.02127"},{"i":389.0,"p":1.01787,"t":"1.01787"},{"i":389.0,"p":1.01447,"t":"1.01447"}]
},
"layer":[
{"data":{"values":[{"a":346.95,"b":370.95,"p1":1.014187,"p2":1.086113}]},"mark":{"type":"rect","color":"#8b4513"},
 "encoding":{"x":{"field":"a","type":"quantitative","scale":{"domain":[-0.375,387.375],"nice":false,"zero":false},"title":null},"x2":{"field":"b"},"y":{"field":"p1","type":"quantitative","scale":{"domain":[1.014187,1.086113],"nice":false,"zero":false},"title":null},"y2":{"field":"p2"}}},
{"data":{"values":[{"a":58.875,"b":252.875,"p1":1.01667,"p2":1.08316}]},"mark":{"type":"rect","color":"#000080"},
 "encoding":{"x":{"field":"a","type":"quantitative","scale":{"domain":[-0.375,387.375],"nice":false,"zero":false},"title":null},"x2":{"field":"b"},"y":{"field":"p1","type":"quantitative","scale":{"domain":[1.014187,1.086113],"nice":false,"zero":false},"title":null},"y2":{"field":"p2"}}},
{"data":{"values":[{"a":71.95,"b":95.95,"p1":1.02009,"p2":1.07865}]},"mark":{"type":"rect","color":"#5b6eae"},
 "encoding":{"x":{"field":"a","type":"quantitative","scale":{"domain":[-0.375,387.375],"nice":false,"zero":false},"title":null},"x2":{"field":"b"},"y":{"field":"p1","type":"quantitative","scale":{"domain":[1.014187,1.086113],"nice":false,"zero":false},"title":null},"y2":{"field":"p2"}}},
{"data":{"values":[{"a":322.95,"b":346.95,"p1":1.04624,"p2":1.06445}]},"mark":{"type":"rect","color":"#696969"},
 "encoding":{"x":{"field":"a","type":"quantitative","scale":{"domain":[-0.375,387.375],"nice":false,"zero":false},"title":null},"x2":{"field":"b"},"y":{"field":"p1","type":"quantitative","scale":{"domain":[1.014187,1.086113],"nice":false,"zero":false},"title":null},"y2":{"field":"p2"}}},
{"data":{"values":[{"a":383.9,"b":387.375,"p1":1.06912,"p2":1.07112}]},"mark":{"type":"rect","color":"#8b4513"},
 "encoding":{"x":{"field":"a","type":"quantitative","scale":{"domain":[-0.375,387.375],"nice":false,"zero":false},"title":null},"x2":{"field":"b"},"y":{"field":"p1","type":"quantitative","scale":{"domain":[1.014187,1.086113],"nice":false,"zero":false},"title":null},"y2":{"field":"p2"}}},
{"data":{"name":"seps"},"mark":{"type":"rule","color":"#ffffff","strokeDash":[3,3],"strokeWidth":1},
 "encoding":{"x":{"field":"i","type":"quantitative","scale":{"domain":[-0.375,387.375],"nice":false,"zero":false},"title":null}}},
{"data":{"values":[{"p":1.07119}]},"mark":{"type":"rule","color":"#7d8ba6","strokeWidth":1},
 "encoding":{"y":{"field":"p","type":"quantitative","scale":{"domain":[1.014187,1.086113],"nice":false,"zero":false},"title":null}}},
{"data":{"values":[{"p":1.06761}]},"mark":{"type":"rule","color":"#ffb6c1","strokeWidth":1},
 "encoding":{"y":{"field":"p","type":"quantitative","scale":{"domain":[1.014187,1.086113],"nice":false,"zero":false},"title":null}}},
{"data":{"name":"candles"},"mark":{"type":"rule","color":"#00ff00","strokeWidth":1},
 "encoding":{
  "x":{"field":"i","type":"quantitative","scale":{"domain":[-0.375,387.375],"nice":false,"zero":false},"title":null,
   "axis":{"title":null,"orient":"bottom","values":[0,16,32,48,64,80,96,112,128,144,160,176,192,208,224,240,256,272,288,304,320,336,352,368,384],
    "labelExpr":"['19 Dec 2016','19 Dec 16:00','20 Dec 08:00','21 Dec 00:00','21 Dec 16:00','22 Dec 08:00','23 Dec 00:00','23 Dec 16:00','27 Dec 07:00','27 Dec 23:00','28 Dec 15:00','29 Dec 07:00','29 Dec 23:00','30 Dec 15:00','3 Jan 21:00','4 Jan 13:00','5 Jan 05:00','5 Jan 21:00','6 Jan 13:00','9 Jan 05:00','9 Jan 21:00','10 Jan 13:00','11 Jan 05:00','11 Jan 21:00','12 Jan 13:00'][round(datum.value/16)]",
    "labelAlign":"left","labelBaseline":"top","labelPadding":2,"labelColor":"#ffffff","labelFont":"Liberation Sans","labelFontSize":10,"labelOverlap":false,"labelFlush":false,
    "tickColor":"#ffffff","tickSize":4,"domainColor":"#ffffff","domainWidth":1,"grid":false,"zindex":1}},
  "y":{"field":"l","type":"quantitative","scale":{"domain":[1.014187,1.086113],"nice":false,"zero":false},"title":null,
   "axis":{"title":null,"orient":"right","values":[1.08287,1.07947,1.07607,1.07257,1.06917,1.06577,1.06237,1.05897,1.05547,1.05207,1.04867,1.04527,1.04177,1.03837,1.03497,1.03157,1.02807,1.02467,1.02127,1.01787,1.01447],
    "labels":false,"tickColor":"#ffffff","tickSize":4,"domainColor":"#ffffff","domainWidth":1.5,"grid":false,"zindex":1}},
  "y2":{"field":"h"}}},
{"data":{"name":"candles"},"mark":{"type":"bar","size":2,"stroke":"#00ff00","strokeWidth":1},
 "encoding":{"x":{"field":"i","type":"quantitative","scale":{"domain":[-0.375,387.375],"nice":false,"zero":false},"title":null},
  "y":{"field":"o","type":"quantitative","scale":{"domain":[1.014187,1.086113],"nice":false,"zero":false},"title":null},"y2":{"field":"c"},
  "fill":{"condition":{"test":"datum.c > datum.o","value":"#ffffff"},"value":"#ffffff"}}},
{"data":{"values":[{"a":227.9,"b":247.6,"p":1.05323},{"a":227.9,"b":247.6,"p":1.04773},{"a":227.9,"b":247.6,"p":1.04435},{"a":227.9,"b":247.6,"p":1.04220},{"a":227.9,"b":247.6,"p":1.04100},{"a":227.9,"b":247.6,"p":1.04017},{"a":227.9,"b":247.6,"p":1.03976},{"a":227.9,"b":247.6,"p":1.03893}]},
 "mark":{"type":"rule","color":"#00c8ff","strokeWidth":1},
 "encoding":{"x":{"field":"a","type":"quantitative","scale":{"domain":[-0.375,387.375],"nice":false,"zero":false},"title":null},"x2":{"field":"b"},"y":{"field":"p","type":"quantitative","scale":{"domain":[1.014187,1.086113],"nice":false,"zero":false},"title":null}}},
{"data":{"values":[{"a":241.6,"b":247.6,"p1":1.05323,"p2":1.05437},{"a":241.6,"b":247.6,"p1":1.04835,"p2":1.04945},{"a":241.6,"b":247.6,"p1":1.04435,"p2":1.04549}]},"mark":{"type":"rect","color":"#000000"},
 "encoding":{"x":{"field":"a","type":"quantitative","scale":{"domain":[-0.375,387.375],"nice":false,"zero":false},"title":null},"x2":{"field":"b"},"y":{"field":"p1","type":"quantitative","scale":{"domain":[1.014187,1.086113],"nice":false,"zero":false},"title":null},"y2":{"field":"p2"}}},
{"data":{"values":[{"i":247.4,"p":1.05380,"t":"423.6"},{"i":247.4,"p":1.04940,"t":"261.8"},{"i":247.4,"p":1.04492,"t":"161.8"}]},
 "mark":{"type":"text","align":"right","baseline":"middle","fontSize":9,"color":"#00c8ff"},
 "encoding":{"x":{"field":"i","type":"quantitative","scale":{"domain":[-0.375,387.375],"nice":false,"zero":false},"title":null},"y":{"field":"p","type":"quantitative","scale":{"domain":[1.014187,1.086113],"nice":false,"zero":false},"title":null},"text":{"field":"t"}}},
{"data":{"values":[{"a":216.95,"b":246.6,"p":1.06891},{"a":216.95,"b":246.6,"p":1.05551},{"a":216.95,"b":246.6,"p":1.04722},{"a":216.95,"b":246.6,"p":1.04214},{"a":216.95,"b":246.6,"p":1.04058},{"a":216.95,"b":246.6,"p":1.03903},{"a":216.95,"b":246.6,"p":1.03706},{"a":216.95,"b":246.6,"p":1.03395}]},
 "mark":{"type":"rule","color":"#ffff00","strokeWidth":1},
 "encoding":{"x":{"field":"a","type":"quantitative","scale":{"domain":[-0.375,387.375],"nice":false,"zero":false},"title":null},"x2":{"field":"b"},"y":{"field":"p","type":"quantitative","scale":{"domain":[1.014187,1.086113],"nice":false,"zero":false},"title":null}}},
{"data":{"values":[{"a":240.0,"b":246.8,"p1":1.06891,"p2":1.07005},{"a":240.6,"b":246.8,"p1":1.05551,"p2":1.05665},{"a":240.6,"b":246.8,"p1":1.04722,"p2":1.04830},{"a":241.9,"b":246.8,"p1":1.04214,"p2":1.04328},{"a":241.9,"b":246.8,"p1":1.04058,"p2":1.04172},{"a":241.9,"b":246.8,"p1":1.03903,"p2":1.04017},{"a":241.9,"b":246.8,"p1":1.03706,"p2":1.03820},{"a":243.1,"b":246.8,"p1":1.03395,"p2":1.03509}]},
 "mark":{"type":"rect","color":"#000000"},
 "encoding":{"x":{"field":"a","type":"quantitative","scale":{"domain":[-0.375,387.375],"nice":false,"zero":false},"title":null},"x2":{"field":"b"},"y":{"field":"p1","type":"quantitative","scale":{"domain":[1.014187,1.086113],"nice":false,"zero":false},"title":null},"y2":{"field":"p2"}}},
{"data":{"values":[{"i":246.6,"p":1.06948,"t":"261.8"},{"i":246.6,"p":1.05608,"t":"161.8"},{"i":246.6,"p":1.04774,"t":"100.0"},{"i":246.6,"p":1.04271,"t":"61.8"},{"i":246.6,"p":1.04115,"t":"50.0"},{"i":246.6,"p":1.03960,"t":"38.2"},{"i":246.6,"p":1.03763,"t":"23.6"},{"i":246.6,"p":1.03452,"t":"0.0"}]},
 "mark":{"type":"text","align":"right","baseline":"middle","fontSize":9,"color":"#ffff00"},
 "encoding":{"x":{"field":"i","type":"quantitative","scale":{"domain":[-0.375,387.375],"nice":false,"zero":false},"title":null},"y":{"field":"p","type":"quantitative","scale":{"domain":[1.014187,1.086113],"nice":false,"zero":false},"title":null},"text":{"field":"t"}}},
{"data":{"values":[{"a":217.1,"pa":1.04722,"b":219.95,"pb":1.03394}]},"mark":{"type":"rule","color":"#ff0000","strokeWidth":1,"strokeDash":[4,3]},
 "encoding":{"x":{"field":"a","type":"quantitative","scale":{"domain":[-0.375,387.375],"nice":false,"zero":false},"title":null},"x2":{"field":"b"},"y":{"field":"pa","type":"quantitative","scale":{"domain":[1.014187,1.086113],"nice":false,"zero":false},"title":null},"y2":{"field":"pb"}}},
{"data":{"values":[{"a":364.55,"pa":1.04559,"b":387.375,"pb":1.04900},{"a":364.55,"pa":1.04559,"b":387.375,"pb":1.04848}]},"mark":{"type":"rule","color":"#1e90ff","strokeWidth":1},
 "encoding":{"x":{"field":"a","type":"quantitative","scale":{"domain":[-0.375,387.375],"nice":false,"zero":false},"title":null},"x2":{"field":"b"},"y":{"field":"pa","type":"quantitative","scale":{"domain":[1.014187,1.086113],"nice":false,"zero":false},"title":null},"y2":{"field":"pb"}}},
{"data":{"values":[{"a":220,"pa":1.03394,"b":387.375,"pb":1.04748}]},"mark":{"type":"rule","color":"#00e600","strokeWidth":3},
 "encoding":{"x":{"field":"a","type":"quantitative","scale":{"domain":[-0.375,387.375],"nice":false,"zero":false},"title":null},"x2":{"field":"b"},"y":{"field":"pa","type":"quantitative","scale":{"domain":[1.014187,1.086113],"nice":false,"zero":false},"title":null},"y2":{"field":"pb"}}},
{"data":{"values":[{"a":364.55,"pa":1.04559,"b":387.375,"pb":1.06197},{"a":364.55,"pa":1.04559,"b":387.375,"pb":1.05886},{"a":364.55,"pa":1.04559,"b":387.375,"pb":1.05575}]},"mark":{"type":"rule","color":"#00e600","strokeWidth":2},
 "encoding":{"x":{"field":"a","type":"quantitative","scale":{"domain":[-0.375,387.375],"nice":false,"zero":false},"title":null},"x2":{"field":"b"},"y":{"field":"pa","type":"quantitative","scale":{"domain":[1.014187,1.086113],"nice":false,"zero":false},"title":null},"y2":{"field":"pb"}}},
{"data":{"values":[{"a":364.55,"pa":1.04559,"b":387.375,"pb":1.05202},{"a":364.55,"pa":1.04559,"b":386.2,"pb":1.07119}]},"mark":{"type":"rule","color":"#ff0000","strokeWidth":1,"strokeDash":[3,3]},
 "encoding":{"x":{"field":"a","type":"quantitative","scale":{"domain":[-0.375,387.375],"nice":false,"zero":false},"title":null},"x2":{"field":"b"},"y":{"field":"pa","type":"quantitative","scale":{"domain":[1.014187,1.086113],"nice":false,"zero":false},"title":null},"y2":{"field":"pb"}}},
{"data":{"values":[{"a":373.3,"pa":1.0571,"b":381.6,"pb":1.0626},{"a":373.3,"pa":1.0571,"b":383.5,"pb":1.0624},{"a":373.3,"pa":1.0571,"b":385.5,"pb":1.0621}]},"mark":{"type":"rule","color":"#ffff00","strokeWidth":2},
 "encoding":{"x":{"field":"a","type":"quantitative","scale":{"domain":[-0.375,387.375],"nice":false,"zero":false},"title":null},"x2":{"field":"b"},"y":{"field":"pa","type":"quantitative","scale":{"domain":[1.014187,1.086113],"nice":false,"zero":false},"title":null},"y2":{"field":"pb"}}},
{"data":{"values":[{"a":372.9,"b":387.375,"p":1.07126},{"a":372.9,"b":387.375,"p":1.06794},{"a":372.9,"b":387.375,"p":1.06589},{"a":372.9,"b":387.375,"p":1.06423},{"a":372.9,"b":387.375,"p":1.06257},{"a":372.9,"b":387.375,"p":1.05720},{"a":372.9,"b":387.375,"p":1.04851},{"a":372.9,"b":387.375,"p":1.03445}]},
 "mark":{"type":"rule","color":"#ffff00","strokeWidth":3},
 "encoding":{"x":{"field":"a","type":"quantitative","scale":{"domain":[-0.375,387.375],"nice":false,"zero":false},"title":null},"x2":{"field":"b"},"y":{"field":"p","type":"quantitative","scale":{"domain":[1.014187,1.086113],"nice":false,"zero":false},"title":null}}},
{"data":{"values":[{"i":387.2,"p":1.07186,"t":"0.0"},{"i":387.2,"p":1.06854,"t":"23.6"},{"i":387.2,"p":1.06649,"t":"38.2"},{"i":387.2,"p":1.06483,"t":"50.0"},{"i":387.2,"p":1.06317,"t":"61.8"},{"i":387.2,"p":1.05780,"t":"100.0"},{"i":387.2,"p":1.04911,"t":"161.8"},{"i":387.2,"p":1.03505,"t":"261.8"}]},
 "mark":{"type":"text","align":"right","baseline":"middle","fontSize":9,"color":"#ffff00"},
 "encoding":{"x":{"field":"i","type":"quantitative","scale":{"domain":[-0.375,387.375],"nice":false,"zero":false},"title":null},"y":{"field":"p","type":"quantitative","scale":{"domain":[1.014187,1.086113],"nice":false,"zero":false},"title":null},"text":{"field":"t"}}},
{"data":{"values":[{"i":387.2,"p":1.06222,"t":"38.2"},{"i":387.2,"p":1.05948,"t":"50.0"},{"i":387.2,"p":1.05637,"t":"61.8"}]},
 "mark":{"type":"text","align":"right","baseline":"middle","fontSize":9,"color":"#00e600"},
 "encoding":{"x":{"field":"i","type":"quantitative","scale":{"domain":[-0.375,387.375],"nice":false,"zero":false},"title":null},"y":{"field":"p","type":"quantitative","scale":{"domain":[1.014187,1.086113],"nice":false,"zero":false},"title":null},"text":{"field":"t"}}},
{"data":{"values":[{"a":269.8,"pa":1.06137,"b":290.1,"pb":1.06196}]},"mark":{"type":"rule","color":"#1e90ff","strokeWidth":3},
 "encoding":{"x":{"field":"a","type":"quantitative","scale":{"domain":[-0.375,387.375],"nice":false,"zero":false},"title":null},"x2":{"field":"b"},"y":{"field":"pa","type":"quantitative","scale":{"domain":[1.014187,1.086113],"nice":false,"zero":false},"title":null},"y2":{"field":"pb"}}},
{"data":{"values":[{"a":86.45,"b":89,"p":1.04981},{"a":194,"b":196.6,"p":1.06512},{"a":159,"b":161.6,"p":1.03480},{"a":220,"b":222.7,"p":1.03394}]},"mark":{"type":"rule","color":"#ff00ff","strokeWidth":1},
 "encoding":{"x":{"field":"a","type":"quantitative","scale":{"domain":[-0.375,387.375],"nice":false,"zero":false},"title":null},"x2":{"field":"b"},"y":{"field":"p","type":"quantitative","scale":{"domain":[1.014187,1.086113],"nice":false,"zero":false},"title":null}}},
{"data":{"values":[{"a":67.95,"b":86.45,"p1":1.04860,"p2":1.05108},{"a":196.6,"b":214.95,"p1":1.06386,"p2":1.06635},{"a":161.6,"b":180.1,"p1":1.03354,"p2":1.03605},{"a":222.7,"b":241.05,"p1":1.03271,"p2":1.03519}]},
 "mark":{"type":"rect","fill":"#000000","stroke":"#ff00ff","strokeWidth":1.5},
 "encoding":{"x":{"field":"a","type":"quantitative","scale":{"domain":[-0.375,387.375],"nice":false,"zero":false},"title":null},"x2":{"field":"b"},"y":{"field":"p1","type":"quantitative","scale":{"domain":[1.014187,1.086113],"nice":false,"zero":false},"title":null},"y2":{"field":"p2"}}},
{"data":{"values":[{"i":77.2,"p":1.04984,"t":"1.04980"},{"i":205.8,"p":1.06510,"t":"1.06512"},{"i":170.85,"p":1.03480,"t":"1.03480"},{"i":231.9,"p":1.03395,"t":"1.03394"}]},
 "mark":{"type":"text","align":"center","baseline":"middle","fontSize":21,"color":"#ff00ff"},
 "encoding":{"x":{"field":"i","type":"quantitative","scale":{"domain":[-0.375,387.375],"nice":false,"zero":false},"title":null},"y":{"field":"p","type":"quantitative","scale":{"domain":[1.014187,1.086113],"nice":false,"zero":false},"title":null},"text":{"field":"t"}}},
{"data":{"values":[{"i":386.2,"p":1.07119}]},"mark":{"type":"point","filled":true,"size":45,"color":"#00ff00","opacity":1},
 "encoding":{"x":{"field":"i","type":"quantitative","scale":{"domain":[-0.375,387.375],"nice":false,"zero":false},"title":null},"y":{"field":"p","type":"quantitative","scale":{"domain":[1.014187,1.086113],"nice":false,"zero":false},"title":null}}},
{"data":{"name":"ylabels"},
 "mark":{"type":"text","align":"left","baseline":"middle","fontSize":10,"color":"#ffffff"},
 "encoding":{"x":{"field":"i","type":"quantitative","scale":{"domain":[-0.375,387.375],"nice":false,"zero":false},"title":null},"y":{"field":"p","type":"quantitative","scale":{"domain":[1.014187,1.086113],"nice":false,"zero":false},"title":null},"text":{"field":"t"}}},
{"data":{"values":[{"a":387.6,"b":398.1,"p1":1.07060,"p2":1.07163}]},"mark":{"type":"rect","color":"#ffffff"},
 "encoding":{"x":{"field":"a","type":"quantitative","scale":{"domain":[-0.375,387.375],"nice":false,"zero":false},"title":null},"x2":{"field":"b"},"y":{"field":"p1","type":"quantitative","scale":{"domain":[1.014187,1.086113],"nice":false,"zero":false},"title":null},"y2":{"field":"p2"}}},
{"data":{"values":[{"a":387.6,"b":398.1,"p1":1.06715,"p2":1.06826}]},"mark":{"type":"rect","color":"#ffb6c1"},
 "encoding":{"x":{"field":"a","type":"quantitative","scale":{"domain":[-0.375,387.375],"nice":false,"zero":false},"title":null},"x2":{"field":"b"},"y":{"field":"p1","type":"quantitative","scale":{"domain":[1.014187,1.086113],"nice":false,"zero":false},"title":null},"y2":{"field":"p2"}}},
{"data":{"values":[{"i":392.9,"p":1.07112,"t":"1.07119"},{"i":392.9,"p":1.06770,"t":"1.06761"}]},
 "mark":{"type":"text","align":"center","baseline":"middle","fontSize":10,"color":"#000000"},
 "encoding":{"x":{"field":"i","type":"quantitative","scale":{"domain":[-0.375,387.375],"nice":false,"zero":false},"title":null},"y":{"field":"p","type":"quantitative","scale":{"domain":[1.014187,1.086113],"nice":false,"zero":false},"title":null},"text":{"field":"t"}}},
{"data":{"values":[{"a":0.625,"b":12.1,"p1":1.08197,"p2":1.08425},{"a":37.4,"b":48.9,"p1":1.08197,"p2":1.08425}]},"mark":{"type":"rect","color":"#e23c3c"},
 "encoding":{"x":{"field":"a","type":"quantitative","scale":{"domain":[-0.375,387.375],"nice":false,"zero":false},"title":null},"x2":{"field":"b"},"y":{"field":"p1","type":"quantitative","scale":{"domain":[1.014187,1.086113],"nice":false,"zero":false},"title":null},"y2":{"field":"p2"}}},
{"data":{"values":[{"a":12.6,"b":37.1,"p1":1.08197,"p2":1.08425}]},"mark":{"type":"rect","color":"#b9b9b9"},
 "encoding":{"x":{"field":"a","type":"quantitative","scale":{"domain":[-0.375,387.375],"nice":false,"zero":false},"title":null},"x2":{"field":"b"},"y":{"field":"p1","type":"quantitative","scale":{"domain":[1.014187,1.086113],"nice":false,"zero":false},"title":null},"y2":{"field":"p2"}}},
{"data":{"values":[{"a":17.8,"b":32.0,"p1":1.08207,"p2":1.08415}]},"mark":{"type":"rect","color":"#ffffff"},
 "encoding":{"x":{"field":"a","type":"quantitative","scale":{"domain":[-0.375,387.375],"nice":false,"zero":false},"title":null},"x2":{"field":"b"},"y":{"field":"p1","type":"quantitative","scale":{"domain":[1.014187,1.086113],"nice":false,"zero":false},"title":null},"y2":{"field":"p2"}}},
{"data":{"values":[{"a":0.625,"b":24.6,"p1":1.07844,"p2":1.08186},{"a":25.1,"b":48.9,"p1":1.07844,"p2":1.08186}]},"mark":{"type":"rect","color":"#cc1616"},
 "encoding":{"x":{"field":"a","type":"quantitative","scale":{"domain":[-0.375,387.375],"nice":false,"zero":false},"title":null},"x2":{"field":"b"},"y":{"field":"p1","type":"quantitative","scale":{"domain":[1.014187,1.086113],"nice":false,"zero":false},"title":null},"y2":{"field":"p2"}}},
{"data":{"values":[{"i":6.0,"p":1.08311,"t":"SELL"},{"i":42.8,"p":1.08311,"t":"BUY"},{"i":21.2,"p":1.08103,"t":"9"},{"i":45.5,"p":1.08103,"t":"3"}]},
 "mark":{"type":"text","align":"center","baseline":"middle","fontSize":12,"color":"#ffffff"},
 "encoding":{"x":{"field":"i","type":"quantitative","scale":{"domain":[-0.375,387.375],"nice":false,"zero":false},"title":null},"y":{"field":"p","type":"quantitative","scale":{"domain":[1.014187,1.086113],"nice":false,"zero":false},"title":null},"text":{"field":"t"}}},
{"data":{"values":[{"i":30.6,"p":1.08311,"t":"0.10"}]},
 "mark":{"type":"text","align":"right","baseline":"middle","fontSize":11,"color":"#000000"},
 "encoding":{"x":{"field":"i","type":"quantitative","scale":{"domain":[-0.375,387.375],"nice":false,"zero":false},"title":null},"y":{"field":"p","type":"quantitative","scale":{"domain":[1.014187,1.086113],"nice":false,"zero":false},"title":null},"text":{"field":"t"}}},
{"data":{"values":[{"i":14.6,"p":1.08311,"t":"▼"},{"i":34.4,"p":1.08311,"t":"▲"}]},
 "mark":{"type":"text","align":"center","baseline":"middle","fontSize":6,"color":"#4a6ab0"},
 "encoding":{"x":{"field":"i","type":"quantitative","scale":{"domain":[-0.375,387.375],"nice":false,"zero":false},"title":null},"y":{"field":"p","type":"quantitative","scale":{"domain":[1.014187,1.086113],"nice":false,"zero":false},"title":null},"text":{"field":"t"}}},
{"data":{"values":[{"i":7.05,"p":1.07955,"t":"1.07"},{"i":31.6,"p":1.07955,"t":"1.07"}]},
 "mark":{"type":"text","align":"center","baseline":"middle","fontSize":13,"fontWeight":"bold","color":"#ffffff"},
 "encoding":{"x":{"field":"i","type":"quantitative","scale":{"domain":[-0.375,387.375],"nice":false,"zero":false},"title":null},"y":{"field":"p","type":"quantitative","scale":{"domain":[1.014187,1.086113],"nice":false,"zero":false},"title":null},"text":{"field":"t"}}},
{"data":{"values":[{"i":15.3,"p":1.08021,"t":"11"},{"i":39.6,"p":1.08021,"t":"15"}]},
 "mark":{"type":"text","align":"center","baseline":"middle","fontSize":33,"color":"#ffffff"},
 "encoding":{"x":{"field":"i","type":"quantitative","scale":{"domain":[-0.375,387.375],"nice":false,"zero":false},"title":null},"y":{"field":"p","type":"quantitative","scale":{"domain":[1.014187,1.086113],"nice":false,"zero":false},"title":null},"text":{"field":"t"}}},
{"data":{"values":[{"i":3.6,"p":1.08518,"t":"EURUSD,H1"}]},
 "mark":{"type":"text","align":"left","baseline":"middle","fontSize":11,"color":"#ffffff"},
 "encoding":{"x":{"field":"i","type":"quantitative","scale":{"domain":[-0.375,387.375],"nice":false,"zero":false},"title":null},"y":{"field":"p","type":"quantitative","scale":{"domain":[1.014187,1.086113],"nice":false,"zero":false},"title":null},"text":{"field":"t"}}},
{"data":{"values":[{"i":1.6,"p":1.08525,"t":"▲"}]},
 "mark":{"type":"text","align":"center","baseline":"middle","fontSize":8,"color":"#ffffff"},
 "encoding":{"x":{"field":"i","type":"quantitative","scale":{"domain":[-0.375,387.375],"nice":false,"zero":false},"title":null},"y":{"field":"p","type":"quantitative","scale":{"domain":[1.014187,1.086113],"nice":false,"zero":false},"title":null},"text":{"field":"t"}}}
]
}
